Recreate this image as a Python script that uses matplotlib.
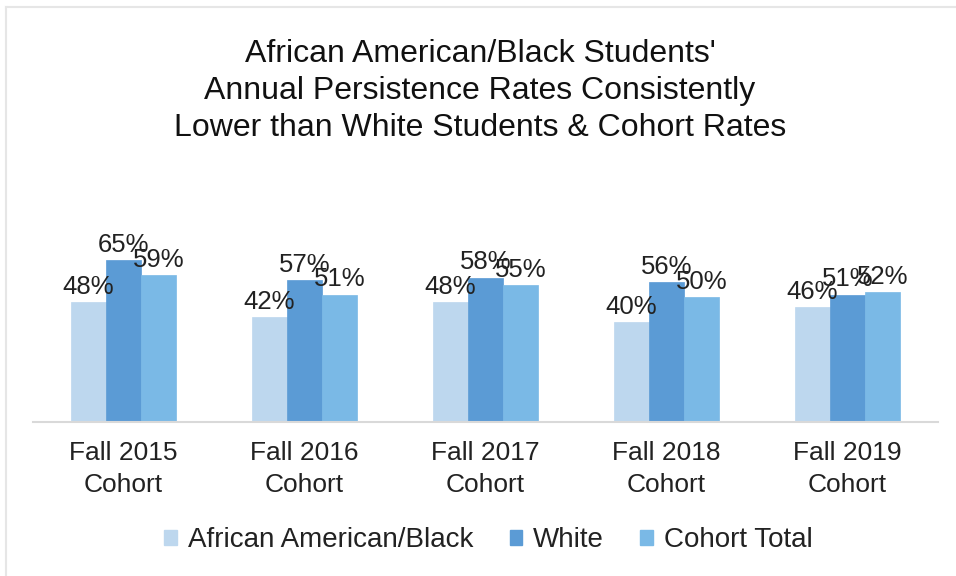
import matplotlib.pyplot as plt
import numpy as np
from matplotlib.lines import Line2D

plt.rcParams['font.family'] = ['Liberation Sans', 'DejaVu Sans']

cohorts = ['Fall 2015\nCohort', 'Fall 2016\nCohort', 'Fall 2017\nCohort',
           'Fall 2018\nCohort', 'Fall 2019\nCohort']
black = [48, 42, 48, 40, 46]
white = [65, 57, 58, 56, 51]
total = [59, 51, 55, 50, 52]
series = ['African American/Black', 'White', 'Cohort Total']
colors = ['#BDD7EE', '#5B9BD5', '#7AB9E6']

fig = plt.figure(figsize=(9.56, 5.76), dpi=100)
ax = fig.add_axes([33/956, 1 - 421.5/576, 905/956, 175/576])

x = np.arange(len(cohorts))
w = 0.193
for i, (vals, c, name) in enumerate(zip([black, white, total], colors, series)):
    pos = x + (i - 1) * w
    ax.bar(pos, vals, w, color=c, label=name, edgecolor=c, linewidth=0.5)
    for p, v in zip(pos, vals):
        ax.text(p, v + 1.4, f'{v}%', ha='center', va='bottom', fontsize=18.5,
                color='#222222', clip_on=False)

ax.set_xlim(-0.5, len(cohorts) - 0.5)
ax.set_ylim(0, 70.5)
ax.set_yticks([])
for s in ['top', 'right', 'left']:
    ax.spines[s].set_visible(False)
ax.spines['bottom'].set_color('#d9d9d9')
ax.spines['bottom'].set_linewidth(1.5)
ax.set_xticks(x)
ax.set_xticklabels(cohorts, fontsize=19, color='#222222', linespacing=1.45)
ax.tick_params(axis='x', length=0, pad=14)

fig.text(0.502, 1 - 91/576, "African American/Black Students'\nAnnual Persistence Rates Consistently\nLower than White Students & Cohort Rates",
         ha='center', va='center', fontsize=23, color='#111111', linespacing=1.3)

handles = [plt.Rectangle((0, 0), 1, 1, color=c) for c in colors]
fig.legend(handles, series, loc='center', bbox_to_anchor=(0.511, 1 - 540/576),
           ncol=3, frameon=False, fontsize=20, handlelength=0.45, handleheight=0.45,
           handletextpad=0.4, columnspacing=1.3, labelcolor='#222222')

# faint frame edge at top and left
fig.add_artist(Line2D([6/956, 1], [1 - 7/576, 1 - 7/576], color='#e6e6e6', lw=1.5))
fig.add_artist(Line2D([6/956, 6/956], [0, 1 - 7/576], color='#e6e6e6', lw=1.5))

fig.savefig('out.png', dpi=100)
